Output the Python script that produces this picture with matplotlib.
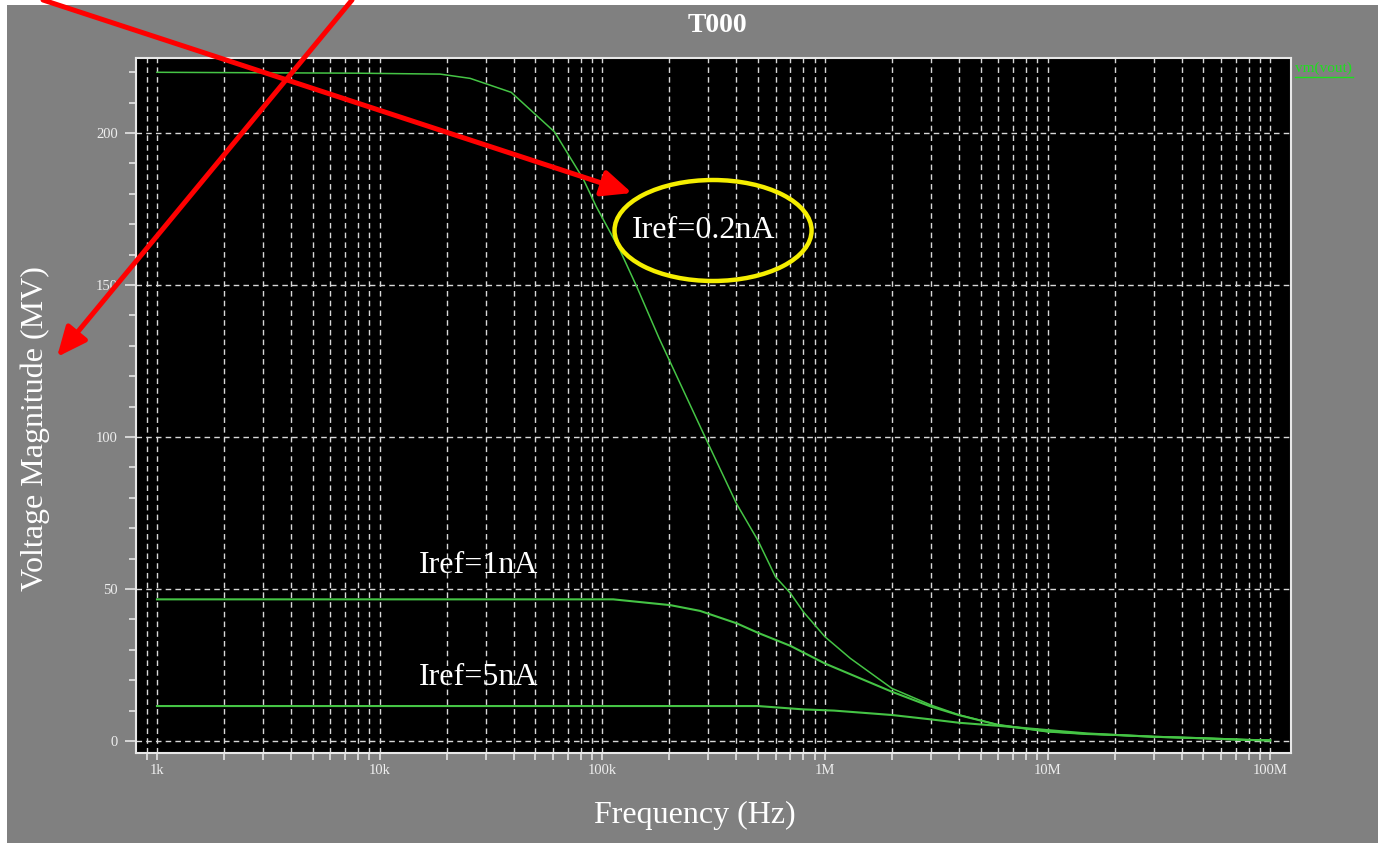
import matplotlib
matplotlib.use("Agg")
import matplotlib.pyplot as plt
from matplotlib.patches import Ellipse, Rectangle
from matplotlib.lines import Line2D
from matplotlib.ticker import LogLocator, FixedLocator, NullFormatter, MultipleLocator

# curve data (frequency in Hz, magnitude in MV)
freq_02n = [1e3, 8e3, 18.7e3, 25.5e3, 39e3, 61e3, 82e3, 94e3, 120e3, 143e3, 180e3,
            290e3, 400e3, 500e3, 600e3, 700e3, 800e3, 1e6, 1.3e6, 2e6, 3e6, 4e6,
            6e6, 10e6, 15e6, 20e6, 30e6, 50e6, 80e6, 100e6]
mag_02n = [220, 219.7, 219.4, 218, 213.4, 200.4, 185, 175.8, 161.5, 149.4, 132.5,
           99.9, 78.2, 66, 54, 48.6, 42.5, 34.3, 27.2, 17.3, 11.8, 8.6,
           5.3, 3.1, 2.3, 2.0, 1.4, 0.9, 0.35, 0.2]

freq_1n = [1e3, 112e3, 202e3, 275e3, 402e3, 500e3, 700e3, 1e6, 2e6, 3e6, 4e6,
           6e6, 10e6, 15e6, 20e6, 30e6, 50e6, 80e6, 100e6]
mag_1n = [46.6, 46.6, 44.7, 42.8, 38.7, 35.6, 31.3, 25.5, 16.2, 11.3, 8.5,
          5.3, 3.1, 2.3, 2.0, 1.4, 0.9, 0.35, 0.2]

freq_5n = [1e3, 500e3, 800e3, 1.1e6, 2e6, 3e6, 4e6, 6e6, 10e6, 15e6, 20e6,
           30e6, 50e6, 80e6, 100e6]
mag_5n = [11.5, 11.5, 10.4, 10.0, 8.55, 7.1, 6.0, 5.0, 3.6, 2.5, 2.0,
          1.4, 0.9, 0.35, 0.2]

x_major = [1e3, 1e4, 1e5, 1e6, 1e7, 1e8]
x_labels = ["1k", "10k", "100k", "1M", "10M", "100M"]
y_major = [0, 50, 100, 150, 200]

W, H = 1378, 843
SERIF = ["Liberation Serif", "DejaVu Serif"]
GRAY = "#808080"
GREEN = "#45c445"


def px_x(x):
    return x / W


def px_y(y):
    # picture rows count from the top
    return 1 - y / H


fig = plt.figure(figsize=(W / 100, H / 100), dpi=100, facecolor="white")
fig.add_artist(Rectangle((px_x(7), 0), 1, px_y(5), transform=fig.transFigure,
                         facecolor=GRAY, edgecolor="none", zorder=-10))

ax = fig.add_axes([px_x(136), px_y(753), (1291 - 136) / W, (753 - 58) / H])
ax.set_facecolor("black")
ax.set_xscale("log")
ax.set_xlim(805, 1.24e8)
ax.set_ylim(-3.95, 224.7)

ax.plot(freq_02n, mag_02n, color=GREEN, lw=1.1, zorder=3)
ax.plot(freq_1n, mag_1n, color=GREEN, lw=1.5, zorder=3)
ax.plot(freq_5n, mag_5n, color=GREEN, lw=1.5, zorder=3)

# ticks and grid
ax.xaxis.set_major_locator(FixedLocator(x_major))
ax.set_xticklabels(x_labels)
ax.xaxis.set_minor_locator(LogLocator(base=10, subs=range(2, 10), numticks=20))
ax.xaxis.set_minor_formatter(NullFormatter())
ax.yaxis.set_major_locator(FixedLocator(y_major))
ax.yaxis.set_minor_locator(MultipleLocator(10))

ax.tick_params(axis="x", which="both", direction="out", length=5, width=1.2,
               color="#e6e6e6", labelcolor="#eeeeee", labelsize=10.5, pad=3)
ax.tick_params(axis="y", which="major", direction="out", length=8, width=1.2,
               color="#e6e6e6", labelcolor="#eeeeee", labelsize=10.5, pad=5)
ax.tick_params(axis="y", which="minor", direction="out", length=5, width=1.2,
               color="#e6e6e6")
for lab in ax.get_xticklabels() + ax.get_yticklabels():
    lab.set_family(SERIF)

grid_kw = dict(color="#d8d8d8", lw=1.0, linestyle=(0, (4, 3)))
ax.grid(True, axis="x", which="both", **grid_kw)
ax.grid(True, axis="y", which="major", **grid_kw)
ax.set_axisbelow(True)
for sp in ax.spines.values():
    sp.set_color("#e8e8e8")
    sp.set_linewidth(1.5)

# annotations inside the plot
ax.text(2.84e5, 168, "Iref=0.2nA", color="white", fontsize=23, family=SERIF,
        ha="center", va="center", zorder=5)
ax.text(2.78e4, 57.9, "Iref=1nA", color="white", fontsize=23, family=SERIF,
        ha="center", va="center", zorder=5)
ax.text(2.78e4, 21, "Iref=5nA", color="white", fontsize=23, family=SERIF,
        ha="center", va="center", zorder=5)
ax.add_patch(Ellipse((0.4996, 0.7518), 0.1706, 0.1453, transform=ax.transAxes,
                     fill=False, edgecolor="#f5ee00", lw=3.2, zorder=6))

# figure texts
fig.text(px_x(717), px_y(25), "T000", color="white", fontsize=20, fontweight="bold",
         family=SERIF, ha="center", va="center")
fig.text(px_x(35), px_y(429), "Voltage Magnitude (MV)", color="white", fontsize=23,
         family=SERIF, rotation=90, ha="center", va="center")
fig.text(px_x(695), px_y(815), "Frequency (Hz)", color="white", fontsize=23,
         family=SERIF, ha="center", va="center")
fig.text(px_x(1295), px_y(68), "vm(vout)", color="#1ee01e", fontsize=11,
         family=SERIF, ha="left", va="center")
fig.add_artist(Line2D([px_x(1295), px_x(1353)], [px_y(77), px_y(77)],
                      transform=fig.transFigure, color="#1ee01e", lw=1.0))

# red arrows drawn over everything
arrow_kw = dict(arrowstyle="-|>,head_length=0.9,head_width=0.4", color="red",
                lw=3.6, shrinkA=0, shrinkB=0, mutation_scale=20)
for tail, head in [((43, 0), (632, 193)), ((352, 0), (57, 357))]:
    an = fig.add_artist(matplotlib.text.Annotation(
        "", xy=(head[0], H - head[1]), xytext=(tail[0], H - tail[1]),
        xycoords="figure pixels", textcoords="figure pixels", arrowprops=arrow_kw))
    an.set_zorder(20)

fig.savefig("out.png", dpi=100, facecolor=fig.get_facecolor())
